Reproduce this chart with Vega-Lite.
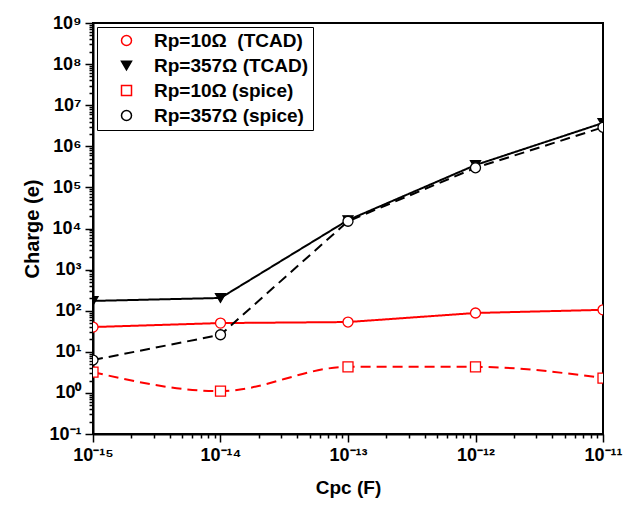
{
  "$schema": "https://vega.github.io/schema/vega-lite/v6.json",
  "width": 510,
  "height": 411,
  "autosize": {"type": "none"},
  "padding": {"left": 93, "top": 23, "right": 23, "bottom": 72},
  "config": {
    "font": "Liberation Sans",
    "view": {"stroke": "black", "strokeWidth": 2},
    "axis": {
      "grid": false,
      "domainColor": "black",
      "domainWidth": 2,
      "tickColor": "black",
      "tickWidth": 1.5,
      "labelColor": "black",
      "labelFontWeight": "bold",
      "labelFontSize": 18,
      "labelFlush": false,
      "labelOverlap": false,
      "labelPadding": 4,
      "titleColor": "black",
      "titleFontWeight": "bold"
    }
  },
  "data": {
    "values": [
      {"series": "a", "cpc": 1e-15, "charge": 40},
      {"series": "a", "cpc": 1e-14, "charge": 50},
      {"series": "a", "cpc": 1e-13, "charge": 53},
      {"series": "a", "cpc": 1e-12, "charge": 88},
      {"series": "a", "cpc": 1e-11, "charge": 105},
      {"series": "b", "cpc": 1e-15, "charge": 173},
      {"series": "b", "cpc": 1e-14, "charge": 204},
      {"series": "b", "cpc": 1e-13, "charge": 16000},
      {"series": "b", "cpc": 1e-12, "charge": 350000},
      {"series": "b", "cpc": 1e-11, "charge": 3700000},
      {"series": "c", "cpc": 1e-15, "charge": 3.2},
      {"series": "c", "cpc": 1e-14, "charge": 1.1},
      {"series": "c", "cpc": 1e-13, "charge": 4.3},
      {"series": "c", "cpc": 1e-12, "charge": 4.3},
      {"series": "c", "cpc": 1e-11, "charge": 2.3},
      {"series": "d", "cpc": 1e-15, "charge": 6.3},
      {"series": "d", "cpc": 1e-14, "charge": 26},
      {"series": "d", "cpc": 1e-13, "charge": 15000},
      {"series": "d", "cpc": 1e-12, "charge": 300000},
      {"series": "d", "cpc": 1e-11, "charge": 2900000}
    ]
  },
  "resolve": {"axis": {"x": "independent", "y": "independent"}},
  "layer": [
    {
      "transform": [{"filter": "datum.series !== 'c'"}],
      "mark": {"type": "line", "strokeWidth": 2, "clip": true},
      "encoding": {
        "x": {
          "field": "cpc", "type": "quantitative",
          "scale": {"type": "log", "domain": [1e-15, 1e-11], "nice": false},
          "axis": {
            "orient": "bottom",
            "title": "Cpc (F)",
            "titleFontSize": 19,
            "titlePadding": 14,
            "tickSize": 8,
            "values": [1e-15, 1e-14, 1e-13, 1e-12, 1e-11],
            "labelExpr": "['10⁻¹⁵','10⁻¹⁴','10⁻¹³','10⁻¹²','10⁻¹¹'][round(log(datum.value)/LN10)+15]"
          }
        },
        "y": {
          "field": "charge", "type": "quantitative",
          "scale": {"type": "log", "domain": [0.1, 1e9], "nice": false},
          "axis": {
            "orient": "left",
            "title": "Charge (e)",
            "titleFontSize": 20,
            "titlePadding": 6,
            "tickSize": 8,
            "values": [0.1, 1, 10, 100, 1000, 1e4, 1e5, 1e6, 1e7, 1e8, 1e9],
            "labelExpr": "['10⁻¹','10⁰','10¹','10²','10³','10⁴','10⁵','10⁶','10⁷','10⁸','10⁹'][round(log(datum.value)/LN10)+1]"
          }
        },
        "color": {"field": "series", "type": "nominal", "legend": null,
          "scale": {"domain": ["a", "b", "c", "d", "l1"], "range": ["#ff0000", "#000000", "#ff0000", "#000000", "#000000"]}},
        "strokeDash": {"field": "series", "type": "nominal", "legend": null,
          "scale": {"domain": ["a", "b", "c", "d", "l2"], "range": [[1, 0], [1, 0], [10, 6], [10, 6], [1, 0]]}}
      }
    },
    {
      "transform": [{"filter": "datum.series === 'c'"}],
      "mark": {"type": "line", "strokeWidth": 2, "clip": true, "interpolate": "monotone"},
      "encoding": {
        "x": {"field": "cpc", "type": "quantitative", "axis": null},
        "y": {"field": "charge", "type": "quantitative", "axis": null},
        "color": {"field": "series", "type": "nominal", "legend": null},
        "strokeDash": {"field": "series", "type": "nominal", "legend": null}
      }
    },
    {
      "mark": {"type": "point", "filled": true, "size": 100, "strokeWidth": 1.3, "opacity": 1, "clip": true},
      "encoding": {
        "x": {
          "field": "cpc", "type": "quantitative",
          "axis": {
            "orient": "bottom",
            "title": null,
            "labels": false,
            "domain": false,
            "tickSize": 4,
            "values": [2e-15,3e-15,4e-15,5e-15,6e-15,7e-15,8e-15,9e-15,2e-14,3e-14,4e-14,5e-14,6e-14,7e-14,8e-14,9e-14,2e-13,3e-13,4e-13,5e-13,6e-13,7e-13,8e-13,9e-13,2e-12,3e-12,4e-12,5e-12,6e-12,7e-12,8e-12,9e-12]
          }
        },
        "y": {
          "field": "charge", "type": "quantitative",
          "axis": {
            "orient": "left",
            "title": null,
            "labels": false,
            "domain": false,
            "tickSize": 4,
            "values": [0.2,0.3,0.4,0.5,0.6,0.7,0.8,0.9,2,3,4,5,6,7,8,9,20,30,40,50,60,70,80,90,200,300,400,500,600,700,800,900,2000,3000,4000,5000,6000,7000,8000,9000,2e4,3e4,4e4,5e4,6e4,7e4,8e4,9e4,2e5,3e5,4e5,5e5,6e5,7e5,8e5,9e5,2e6,3e6,4e6,5e6,6e6,7e6,8e6,9e6,2e7,3e7,4e7,5e7,6e7,7e7,8e7,9e7,2e8,3e8,4e8,5e8,6e8,7e8,8e8,9e8]
          }
        },
        "stroke": {"field": "series", "type": "nominal", "title": null,
          "scale": {"domain": ["a", "b", "c", "d"], "range": ["#ff0000", "#000000", "#ff0000", "#000000"]}},
        "fill": {"field": "series", "type": "nominal", "title": null,
          "scale": {"domain": ["a", "b", "c", "d"], "range": ["#ffffff", "#000000", "#ffffff", "#ffffff"]}},
        "shape": {"field": "series", "type": "nominal", "title": null,
          "scale": {"domain": ["a", "b", "c", "d"], "range": ["circle", "triangle-down", "square", "circle"]},
          "legend": {
            "title": null,
            "orient": "top-left",
            "offset": 4,
            "padding": 4,
            "strokeColor": "black",
            "fillColor": "white",
            "symbolSize": 100,
            "symbolStrokeWidth": 1.5,
            "symbolOpacity": 1,
            "symbolOffset": 16,
            "labelOffset": 18,
            "rowPadding": 5,
            "labelFontSize": 19,
            "labelFontWeight": "bold",
            "labelColor": "black",
            "labelExpr": "datum.value === 'a' ? 'Rp=10Ω\u00a0 (TCAD)' : datum.value === 'b' ? 'Rp=357Ω (TCAD)' : datum.value === 'c' ? 'Rp=10Ω (spice)' : 'Rp=357Ω (spice)'"
          }
        }
      }
    }
  ]
}
